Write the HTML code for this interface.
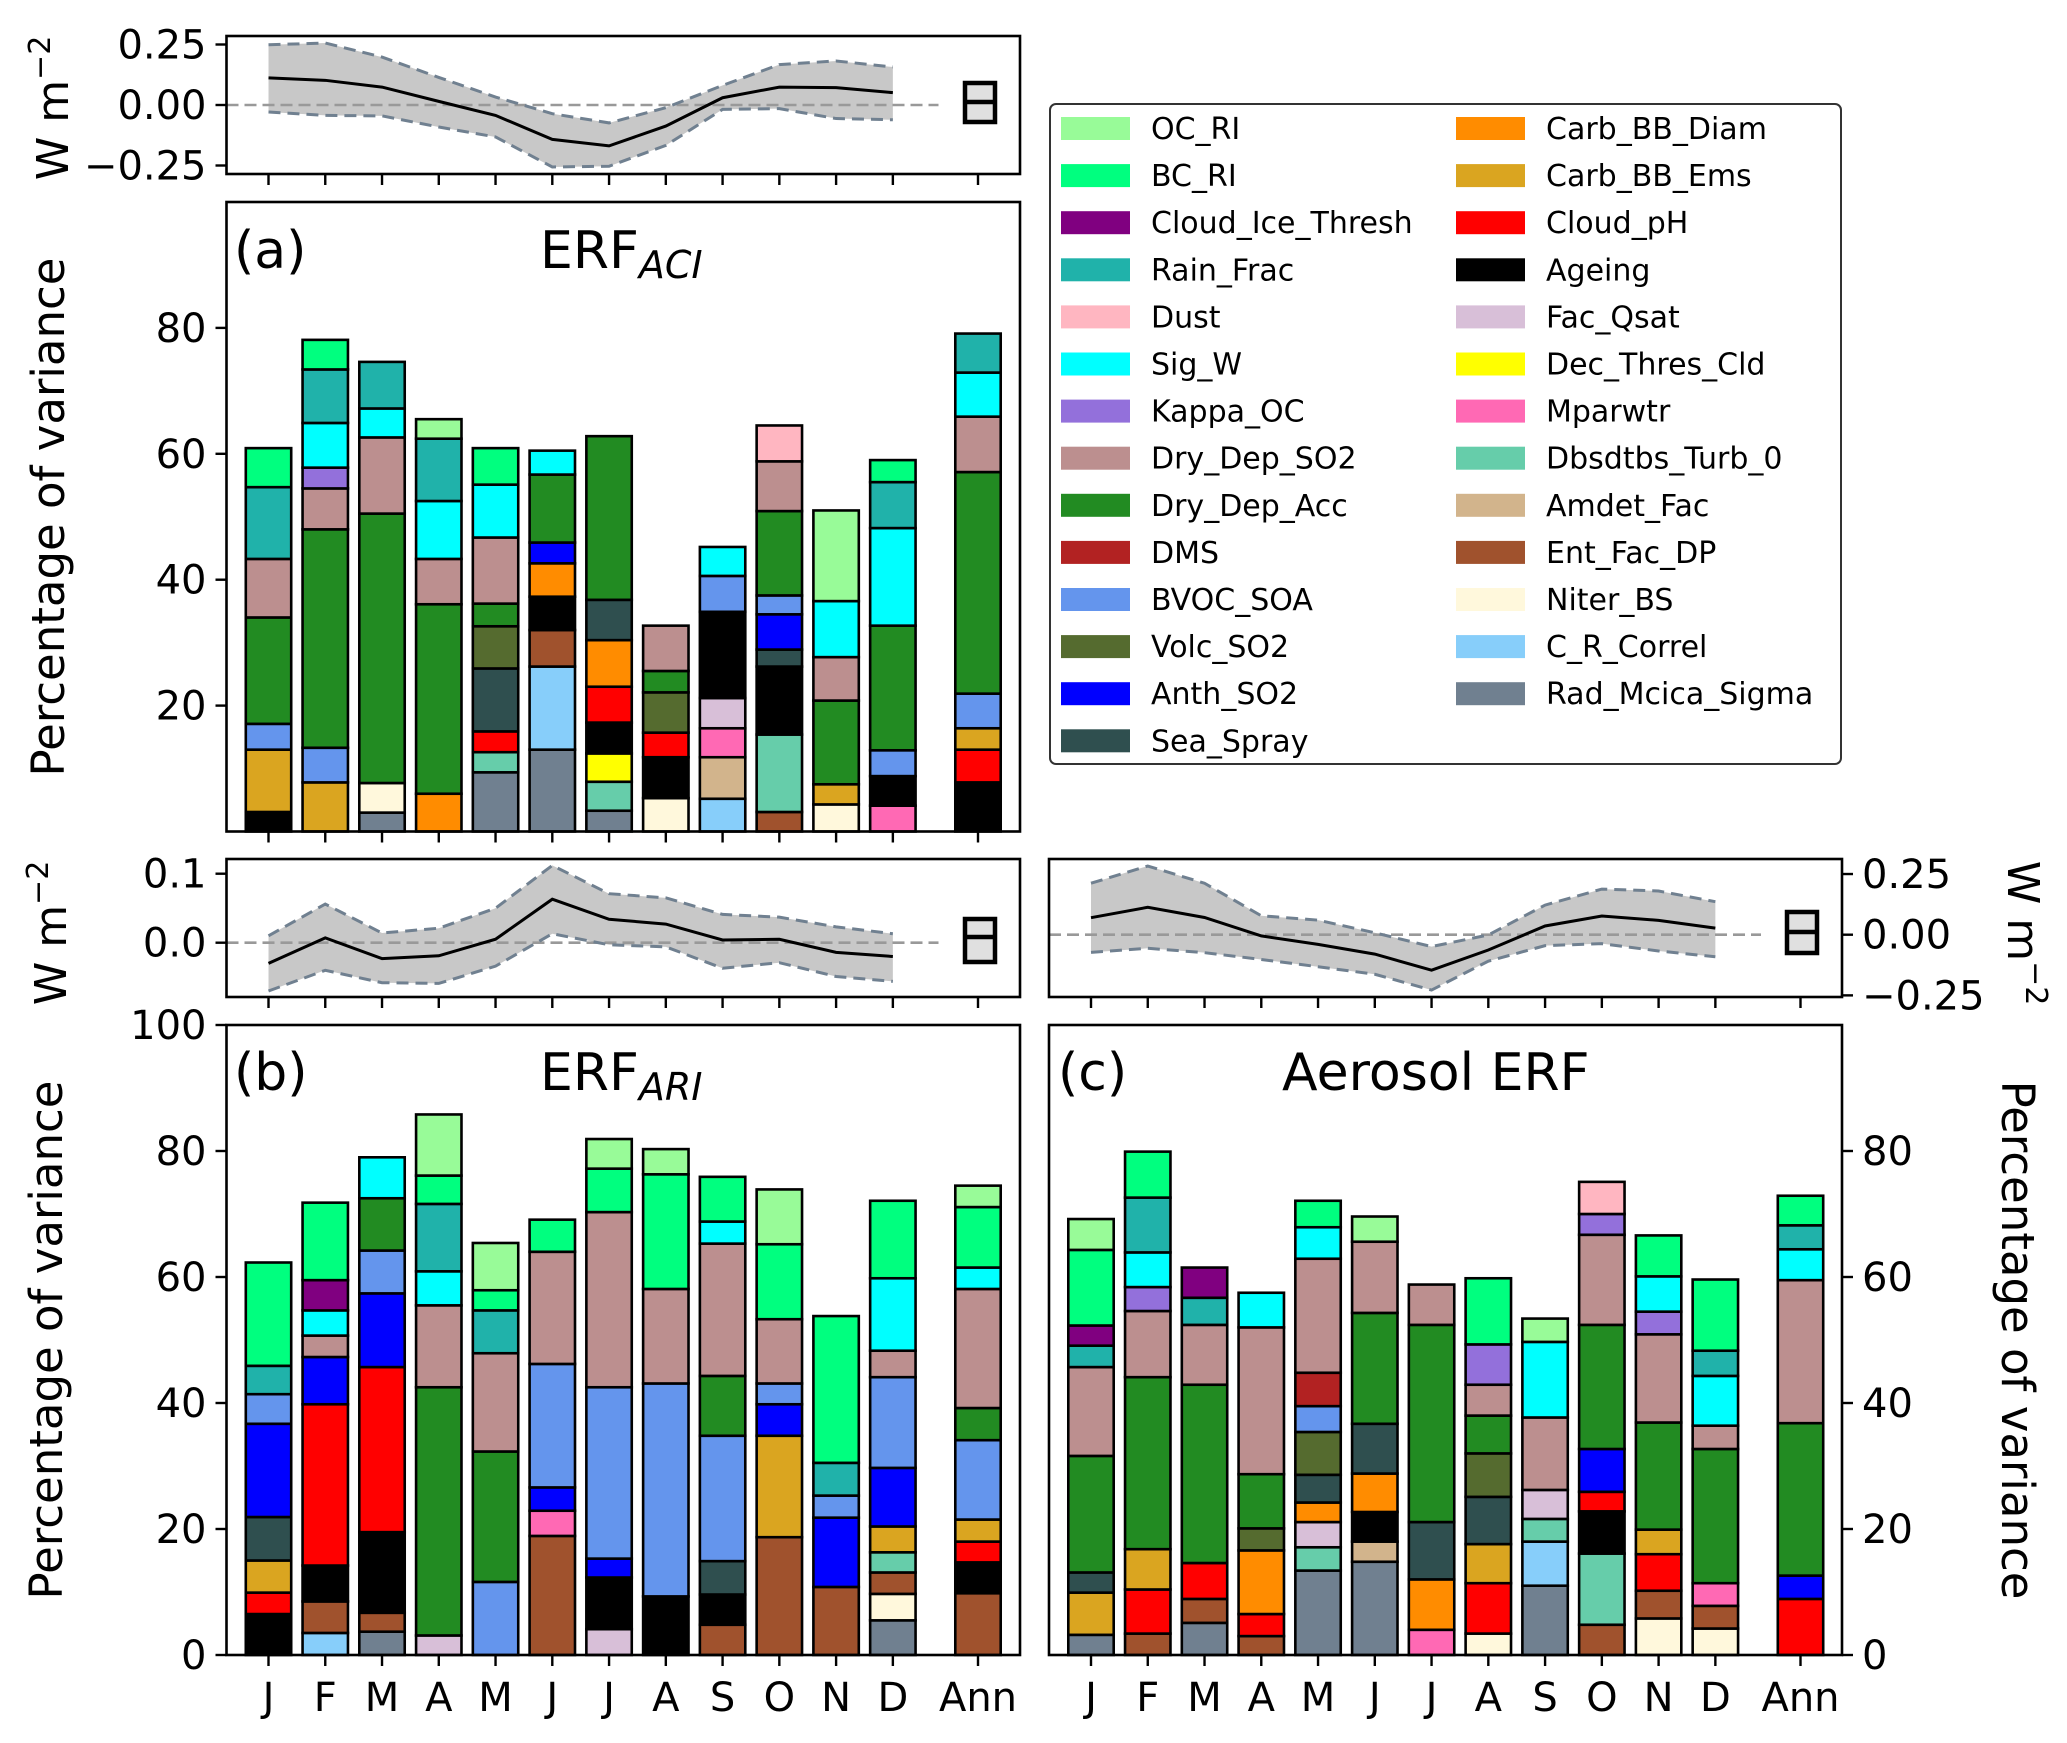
<!DOCTYPE html>
<html><head><meta charset="utf-8"><style>
html,body{margin:0;padding:0;background:#fff}
svg{display:block;font-family:"DejaVu Sans","Liberation Sans",sans-serif}
</style></head>
<body>
<svg id="fig" xmlns="http://www.w3.org/2000/svg" width="2067" height="1743" viewBox="0 0 2067 1743">
<rect x="0" y="0" width="2067" height="1743" fill="#fff"/>
</svg>
<script>
const monthLabels = ["J","F","M","A","M","J","J","A","S","O","N","D","Ann"];
const monthPos = [0,1,2,3,4,5,6,7,8,9,10,11,12.5];
const legendNames = ["OC_RI","BC_RI","Cloud_Ice_Thresh","Rain_Frac","Dust","Sig_W","Kappa_OC","Dry_Dep_SO2","Dry_Dep_Acc","DMS","BVOC_SOA","Volc_SO2","Anth_SO2","Sea_Spray","Carb_BB_Diam","Carb_BB_Ems","Cloud_pH","Ageing","Fac_Qsat","Dec_Thres_Cld","Mparwtr","Dbsdtbs_Turb_0","Amdet_Fac","Ent_Fac_DP","Niter_BS","C_R_Correl","Rad_Mcica_Sigma"];
const legendKeys = ["pg","sg","pu","ls","lp","cy","mp","rb","fg","fb","cb","ol","bl","ds","do","gr","rd","bk","th","ye","hp","ma","ta","si","cs","lk","sl"];
const legendColors = ["#98FB98","#00FF7F","#800080","#20B2AA","#FFB6C1","#00FFFF","#9370DB","#BC8F8F","#228B22","#B22222","#6495ED","#556B2F","#0000FF","#2F4F4F","#FF8C00","#DAA520","#FF0000","#000000","#D8BFD8","#FFFF00","#FF69B4","#66CDAA","#D2B48C","#A0522D","#FFF8DC","#87CEFA","#708090"];

// cumulative tops (% variance) per month, bottom to top: [component, top]
const aciStacks = [
 [["bk",3.1],["gr",13.0],["cb",17.1],["fg",34.0],["rb",43.3],["ls",54.7],["sg",60.9]],
 [["gr",7.8],["cb",13.3],["fg",48.0],["rb",54.5],["mp",57.8],["cy",64.9],["ls",73.4],["sg",78.1]],
 [["sl",3.0],["cs",7.7],["fg",50.5],["rb",62.6],["cy",67.2],["ls",74.6]],
 [["do",6.0],["fg",36.1],["rb",43.3],["cy",52.5],["ls",62.4],["pg",65.5]],
 [["sl",9.4],["ma",12.6],["rd",15.9],["ds",25.9],["ol",32.6],["fg",36.2],["rb",46.7],["cy",55.1],["sg",60.9]],
 [["sl",13.0],["lk",26.2],["si",32.0],["bk",37.3],["do",42.6],["bl",45.9],["fg",56.7],["cy",60.5]],
 [["sl",3.3],["ma",7.9],["ye",12.4],["bk",17.3],["rd",23.0],["do",30.4],["ds",36.8],["fg",62.8]],
 [["cs",5.3],["bk",11.8],["rd",15.7],["ol",22.1],["fg",25.5],["rb",32.7]],
 [["lk",5.2],["ta",11.8],["hp",16.4],["th",21.2],["bk",34.9],["cb",40.6],["cy",45.2]],
 [["si",3.1],["ma",15.4],["bk",26.2],["ds",28.9],["bl",34.5],["cb",37.5],["fg",50.9],["rb",58.8],["lp",64.5]],
 [["cs",4.3],["gr",7.5],["fg",20.8],["rb",27.7],["cy",36.6],["pg",51.0]],
 [["hp",4.1],["bk",8.8],["cb",12.9],["fg",32.7],["cy",48.2],["ls",55.5],["sg",59.0]],
 [["bk",7.8],["rd",13.0],["gr",16.4],["cb",21.9],["fg",57.1],["rb",65.9],["cy",72.9],["ls",79.1]]
];
const ariStacks = [
 [["bk",6.5],["rd",9.9],["gr",15.0],["ds",21.9],["bl",36.7],["cb",41.4],["ls",45.9],["sg",62.3]],
 [["lk",3.5],["si",8.5],["bk",14.2],["rd",39.8],["bl",47.3],["rb",50.7],["cy",54.7],["pu",59.5],["sg",71.8]],
 [["sl",3.7],["si",6.7],["bk",19.5],["rd",45.7],["bl",57.4],["cb",64.2],["fg",72.5],["cy",79.0]],
 [["th",3.1],["fg",42.5],["rb",55.5],["cy",60.9],["ls",71.6],["sg",76.1],["pg",85.8]],
 [["cb",11.6],["fg",32.3],["rb",47.9],["ls",54.7],["sg",57.9],["pg",65.4]],
 [["si",18.9],["hp",22.9],["bl",26.6],["cb",46.2],["rb",64.0],["sg",69.1]],
 [["th",4.1],["bk",12.3],["bl",15.3],["cb",42.5],["rb",70.3],["sg",77.2],["pg",81.9]],
 [["bk",9.3],["cb",43.1],["rb",58.1],["sg",76.3],["pg",80.3]],
 [["si",4.8],["bk",9.6],["ds",14.9],["cb",34.8],["fg",44.3],["rb",65.3],["cy",68.8],["sg",75.9]],
 [["si",18.7],["gr",34.8],["bl",39.8],["cb",43.1],["rb",53.3],["sg",65.2],["pg",73.9]],
 [["si",10.8],["bl",21.8],["cb",25.3],["ls",30.5],["sg",53.8]],
 [["sl",5.5],["cs",9.7],["si",13.1],["ma",16.3],["gr",20.4],["bl",29.7],["cb",44.1],["rb",48.3],["cy",59.8],["sg",72.1]],
 [["si",9.8],["bk",14.7],["rd",18.0],["gr",21.5],["cb",34.1],["fg",39.2],["rb",58.1],["cy",61.5],["sg",71.1],["pg",74.5]]
];
const aerStacks = [
 [["sl",3.2],["gr",9.9],["ds",13.1],["fg",31.6],["rb",45.7],["ls",49.1],["pu",52.3],["sg",64.3],["pg",69.2]],
 [["si",3.4],["rd",10.4],["gr",16.8],["fg",44.1],["rb",54.6],["mp",58.4],["cy",63.9],["ls",72.6],["sg",79.9]],
 [["sl",5.1],["si",8.9],["rd",14.6],["fg",42.9],["rb",52.4],["ls",56.7],["pu",61.5]],
 [["si",3.0],["rd",6.5],["do",16.6],["ol",20.1],["fg",28.7],["rb",52.0],["cy",57.5]],
 [["sl",13.4],["ma",17.1],["th",21.1],["do",24.2],["ds",28.6],["ol",35.4],["cb",39.5],["fb",44.8],["rb",62.9],["cy",67.9],["sg",72.1]],
 [["sl",14.8],["ta",18.0],["bk",22.7],["do",28.8],["ds",36.7],["fg",54.3],["rb",65.6],["pg",69.6]],
 [["hp",4.0],["do",12.0],["ds",21.1],["fg",52.4],["rb",58.8]],
 [["cs",3.4],["rd",11.4],["gr",17.6],["ds",25.1],["ol",32.0],["fg",38.0],["rb",42.9],["mp",49.3],["sg",59.8]],
 [["sl",11.0],["lk",18.0],["ma",21.6],["th",26.2],["rb",37.7],["cy",49.7],["pg",53.4]],
 [["si",4.8],["ma",16.1],["bk",22.8],["rd",25.9],["bl",32.7],["fg",52.4],["rb",66.7],["mp",70.0],["lp",75.1]],
 [["cs",5.8],["si",10.2],["rd",16.0],["gr",19.9],["fg",36.9],["rb",50.9],["mp",54.5],["cy",60.1],["sg",66.6]],
 [["cs",4.2],["si",7.8],["hp",11.4],["fg",32.7],["rb",36.4],["cy",44.3],["ls",48.3],["sg",59.6]],
 [["rd",8.9],["bl",12.6],["fg",36.8],["rb",59.5],["cy",64.4],["ls",68.2],["sg",72.9]]
];

// monthly ERF (W m-2): mean, upper and lower bounds
const aciMean  = [0.112,0.102,0.074,0.015,-0.043,-0.142,-0.169,-0.087,0.030,0.074,0.072,0.051];
const aciUpper = [0.249,0.256,0.198,0.114,0.033,-0.036,-0.074,-0.011,0.081,0.167,0.182,0.157];
const aciLower = [-0.029,-0.043,-0.045,-0.091,-0.132,-0.256,-0.253,-0.167,-0.018,-0.015,-0.056,-0.061];
const ariMean  = [-0.030,0.007,-0.023,-0.019,0.005,0.063,0.034,0.027,0.004,0.005,-0.014,-0.020];
const ariUpper = [0.010,0.056,0.014,0.021,0.050,0.112,0.071,0.065,0.041,0.037,0.023,0.013];
const ariLower = [-0.070,-0.040,-0.058,-0.059,-0.034,0.013,-0.003,-0.006,-0.037,-0.029,-0.049,-0.056];
const aerMean  = [0.070,0.113,0.071,-0.005,-0.040,-0.080,-0.146,-0.063,0.036,0.077,0.059,0.027];
const aerUpper = [0.212,0.283,0.212,0.078,0.060,0.008,-0.049,-0.001,0.122,0.188,0.180,0.136];
const aerLower = [-0.073,-0.056,-0.074,-0.102,-0.132,-0.163,-0.228,-0.109,-0.045,-0.037,-0.067,-0.091];

const aciTicks = [20,40,60,80];
const ariTicks = [0,20,40,60,80,100];
const aerTicks = [0,20,40,60,80];
const aciSmallTicks = [0.25,0,-0.25];
const aciSmallLabels = ["0.25","0.00","\u22120.25"];
const ariSmallTicks = [0.1,0];
const ariSmallLabels = ["0.1","0.0"];
const aerSmallTicks = [0.25,0,-0.25];
const aerSmallLabels = ["0.25","0.00","\u22120.25"];

const NS="http://www.w3.org/2000/svg";
const svg=document.getElementById('fig');
function mk(tag,attrs,parent){const e=document.createElementNS(NS,tag);for(const k in attrs)e.setAttribute(k,attrs[k]);(parent||svg).appendChild(e);return e;}
const colorOf={};legendKeys.forEach((k,i)=>colorOf[k]=legendColors[i]);
const nameOf={};legendKeys.forEach((k,i)=>nameOf[k]=legendNames[i]);

const STEP=56.76, OFF=42;
function xScale(L,p){return L+OFF+p*STEP;}

function mainPanel(id,L,R,T,B,stacks,ticks,right,showX){
  const g=mk('g',{});
  
  
  const yS=v=>B-v*(B-T)/100;
  const bw=STEP*0.8;
  stacks.forEach((st,i)=>{
    const cx=xScale(L,monthPos[i]);
    let prev=0;
    const bg=mk('g',{},g);
    
    
    st.forEach(([k,top])=>{
      const r=mk('rect',{x:cx-bw/2,y:yS(top),width:bw,height:yS(prev)-yS(top),fill:colorOf[k],stroke:'#000','stroke-width':2.6},bg);
      
      
      prev=top;
    });
  });
  const fr=mk('rect',{x:L,y:T,width:R-L,height:B-T,fill:'none',stroke:'#000','stroke-width':2.6},g);
  
  
  ticks.forEach(t=>{
    const y=yS(t);
    if(right){mk('line',{x1:R,x2:R+11,y1:y,y2:y,stroke:'#000','stroke-width':2.4},g);
      const tx=mk('text',{x:R+20,y:y+14,'font-size':40,fill:'#000'},g);tx.textContent=t;
      
      }
    else{mk('line',{x1:L-11,x2:L,y1:y,y2:y,stroke:'#000','stroke-width':2.4},g);
      const tx=mk('text',{x:L-20,y:y+14,'font-size':40,'text-anchor':'end',fill:'#000'},g);tx.textContent=t;
      
      }
  });
  monthPos.forEach((p,i)=>{
    const x=xScale(L,p);
    mk('line',{x1:x,x2:x,y1:B,y2:B+11,stroke:'#000','stroke-width':2.4},g);
    if(showX){const tx=mk('text',{x:x,y:B+56,'font-size':40,'text-anchor':'middle',fill:'#000'},g);tx.textContent=monthLabels[i];
      
      }
  });
}

function smallPanel(id,L,R,T,B,zeroY,perUnit,mean,upper,lower,ticks,labels,right,box){
  const g=mk('g',{});
  
  
  const yS=v=>zeroY-v*perUnit;
  const xs=mean.map((_,i)=>xScale(L,monthPos[i]));
  let d='M'+xs.map((x,i)=>x+','+yS(upper[i])).join(' L')+' L'+xs.map((x,i)=>x+','+yS(lower[i])).reverse().join(' L')+'Z';
  const band=mk('path',{d:d,fill:'#c8c8c8',stroke:'none'},g);
  
  
  const z=mk('line',{x1:L,x2:L+712,y1:zeroY,y2:zeroY,stroke:'#999','stroke-width':2.6,'stroke-dasharray':'12,6'},g);
  
  
  [upper,lower].forEach((arr,j)=>{
    const p=mk('polyline',{points:xs.map((x,i)=>x+','+yS(arr[i])).join(' '),fill:'none',stroke:'#708090','stroke-width':3,'stroke-dasharray':'12,7'},g);
    
    
  });
  const ml=mk('polyline',{points:xs.map((x,i)=>x+','+yS(mean[i])).join(' '),fill:'none',stroke:'#000','stroke-width':3},g);
  
  
  const bx=mk('rect',{x:box[0],y:box[1],width:box[2],height:box[3],fill:'#e0e0e0',stroke:'#000','stroke-width':4.5},g);
  
  
  mk('line',{x1:box[0],x2:box[0]+box[2],y1:box[4],y2:box[4],stroke:'#000','stroke-width':4.5},g);
  const fr=mk('rect',{x:L,y:T,width:R-L,height:B-T,fill:'none',stroke:'#000','stroke-width':2.6},g);
  
  
  ticks.forEach((t,i)=>{
    const y=yS(t);
    if(right){mk('line',{x1:R,x2:R+11,y1:y,y2:y,stroke:'#000','stroke-width':2.4},g);
      const tx=mk('text',{x:R+20,y:y+14,'font-size':40,fill:'#000'},g);tx.textContent=labels[i];
      
      }
    else{mk('line',{x1:L-11,x2:L,y1:y,y2:y,stroke:'#000','stroke-width':2.4},g);
      const tx=mk('text',{x:L-20,y:y+14,'font-size':40,'text-anchor':'end',fill:'#000'},g);tx.textContent=labels[i];
      
      }
  });
  monthPos.forEach(p=>{const x=xScale(L,p);mk('line',{x1:x,x2:x,y1:B,y2:B+11,stroke:'#000','stroke-width':2.4},g);});
}

smallPanel('aci',226.5,1020,36,174,105,242,aciMean,aciUpper,aciLower,aciSmallTicks,aciSmallLabels,false,[965,83,30,39,102]);
mainPanel('aci',226.5,1020,202,831.5,aciStacks,aciTicks,false,false);
smallPanel('ari',226.5,1020,859,997,942.7,690,ariMean,ariUpper,ariLower,ariSmallTicks,ariSmallLabels,false,[965,919,30,43,937]);
mainPanel('ari',226.5,1020,1025,1655,ariStacks,ariTicks,false,true);
smallPanel('aer',1049,1842,859,997,934.7,242.7,aerMean,aerUpper,aerLower,aerSmallTicks,aerSmallLabels,true,[1787,912,30,41,932]);
mainPanel('aer',1049,1842,1025,1655,aerStacks,aerTicks,true,true);

// legend
const lg=mk('g',{});


mk('rect',{x:1050,y:104,width:791,height:660,rx:6,fill:'#fff',stroke:'#333','stroke-width':2},lg);
legendNames.forEach((n,i)=>{
  const col=i<14?0:1, row=i<14?i:i-14;
  const px=col?1456:1061, y=128+row*47.1;
  const e=mk('g',{},lg);
  
  
  mk('rect',{x:px,y:y-11,width:69,height:23,fill:legendColors[i]},e);
  const t=mk('text',{x:px+90,y:y+11,'font-size':30,fill:'#000'},e);t.textContent=n;
});

// titles & axis labels
function txt(name,x,y,size,content,extra){const t=mk('text',Object.assign({x:x,y:y,'font-size':size,fill:'#000'},extra||{}));t.textContent=content;
  
  return t;}
txt('panel-a-label',234,268,52,'(a)');
const ta=txt('panel-a-title',540,268,52,'ERF');
const s1=mk('tspan',{'font-size':38,'font-style':'italic',dy:10},ta);s1.textContent='ACI';
txt('panel-b-label',234,1090,52,'(b)');
const tb=txt('panel-b-title',540,1090,52,'ERF');
const s2=mk('tspan',{'font-size':38,'font-style':'italic',dy:10},tb);s2.textContent='ARI';
txt('panel-c-label',1058,1090,52,'(c)');
txt('panel-c-title',1282,1090,52,'Aerosol ERF');
txt('y-axis-title-a',64,517,45,'Percentage of variance',{transform:'rotate(-90 64 517)','text-anchor':'middle'});
txt('y-axis-title-b',62,1340,45,'Percentage of variance',{transform:'rotate(-90 62 1340)','text-anchor':'middle'});
txt('y-axis-title-c',2002,1340,45,'Percentage of variance',{transform:'rotate(90 2002 1340)','text-anchor':'middle'});
function wm(name,x,y,rot){const t=txt(name,x,y,44,'W m',{transform:'rotate('+rot+' '+x+' '+y+')','text-anchor':'middle'});
  const sp=mk('tspan',{'font-size':30,dy:-18},t);sp.textContent='\u22122';}
wm('erf-unit-a',68,108,-90);
wm('erf-unit-b',66,933,-90);
wm('erf-unit-c',2008,933,90);
</script>
</body></html>
